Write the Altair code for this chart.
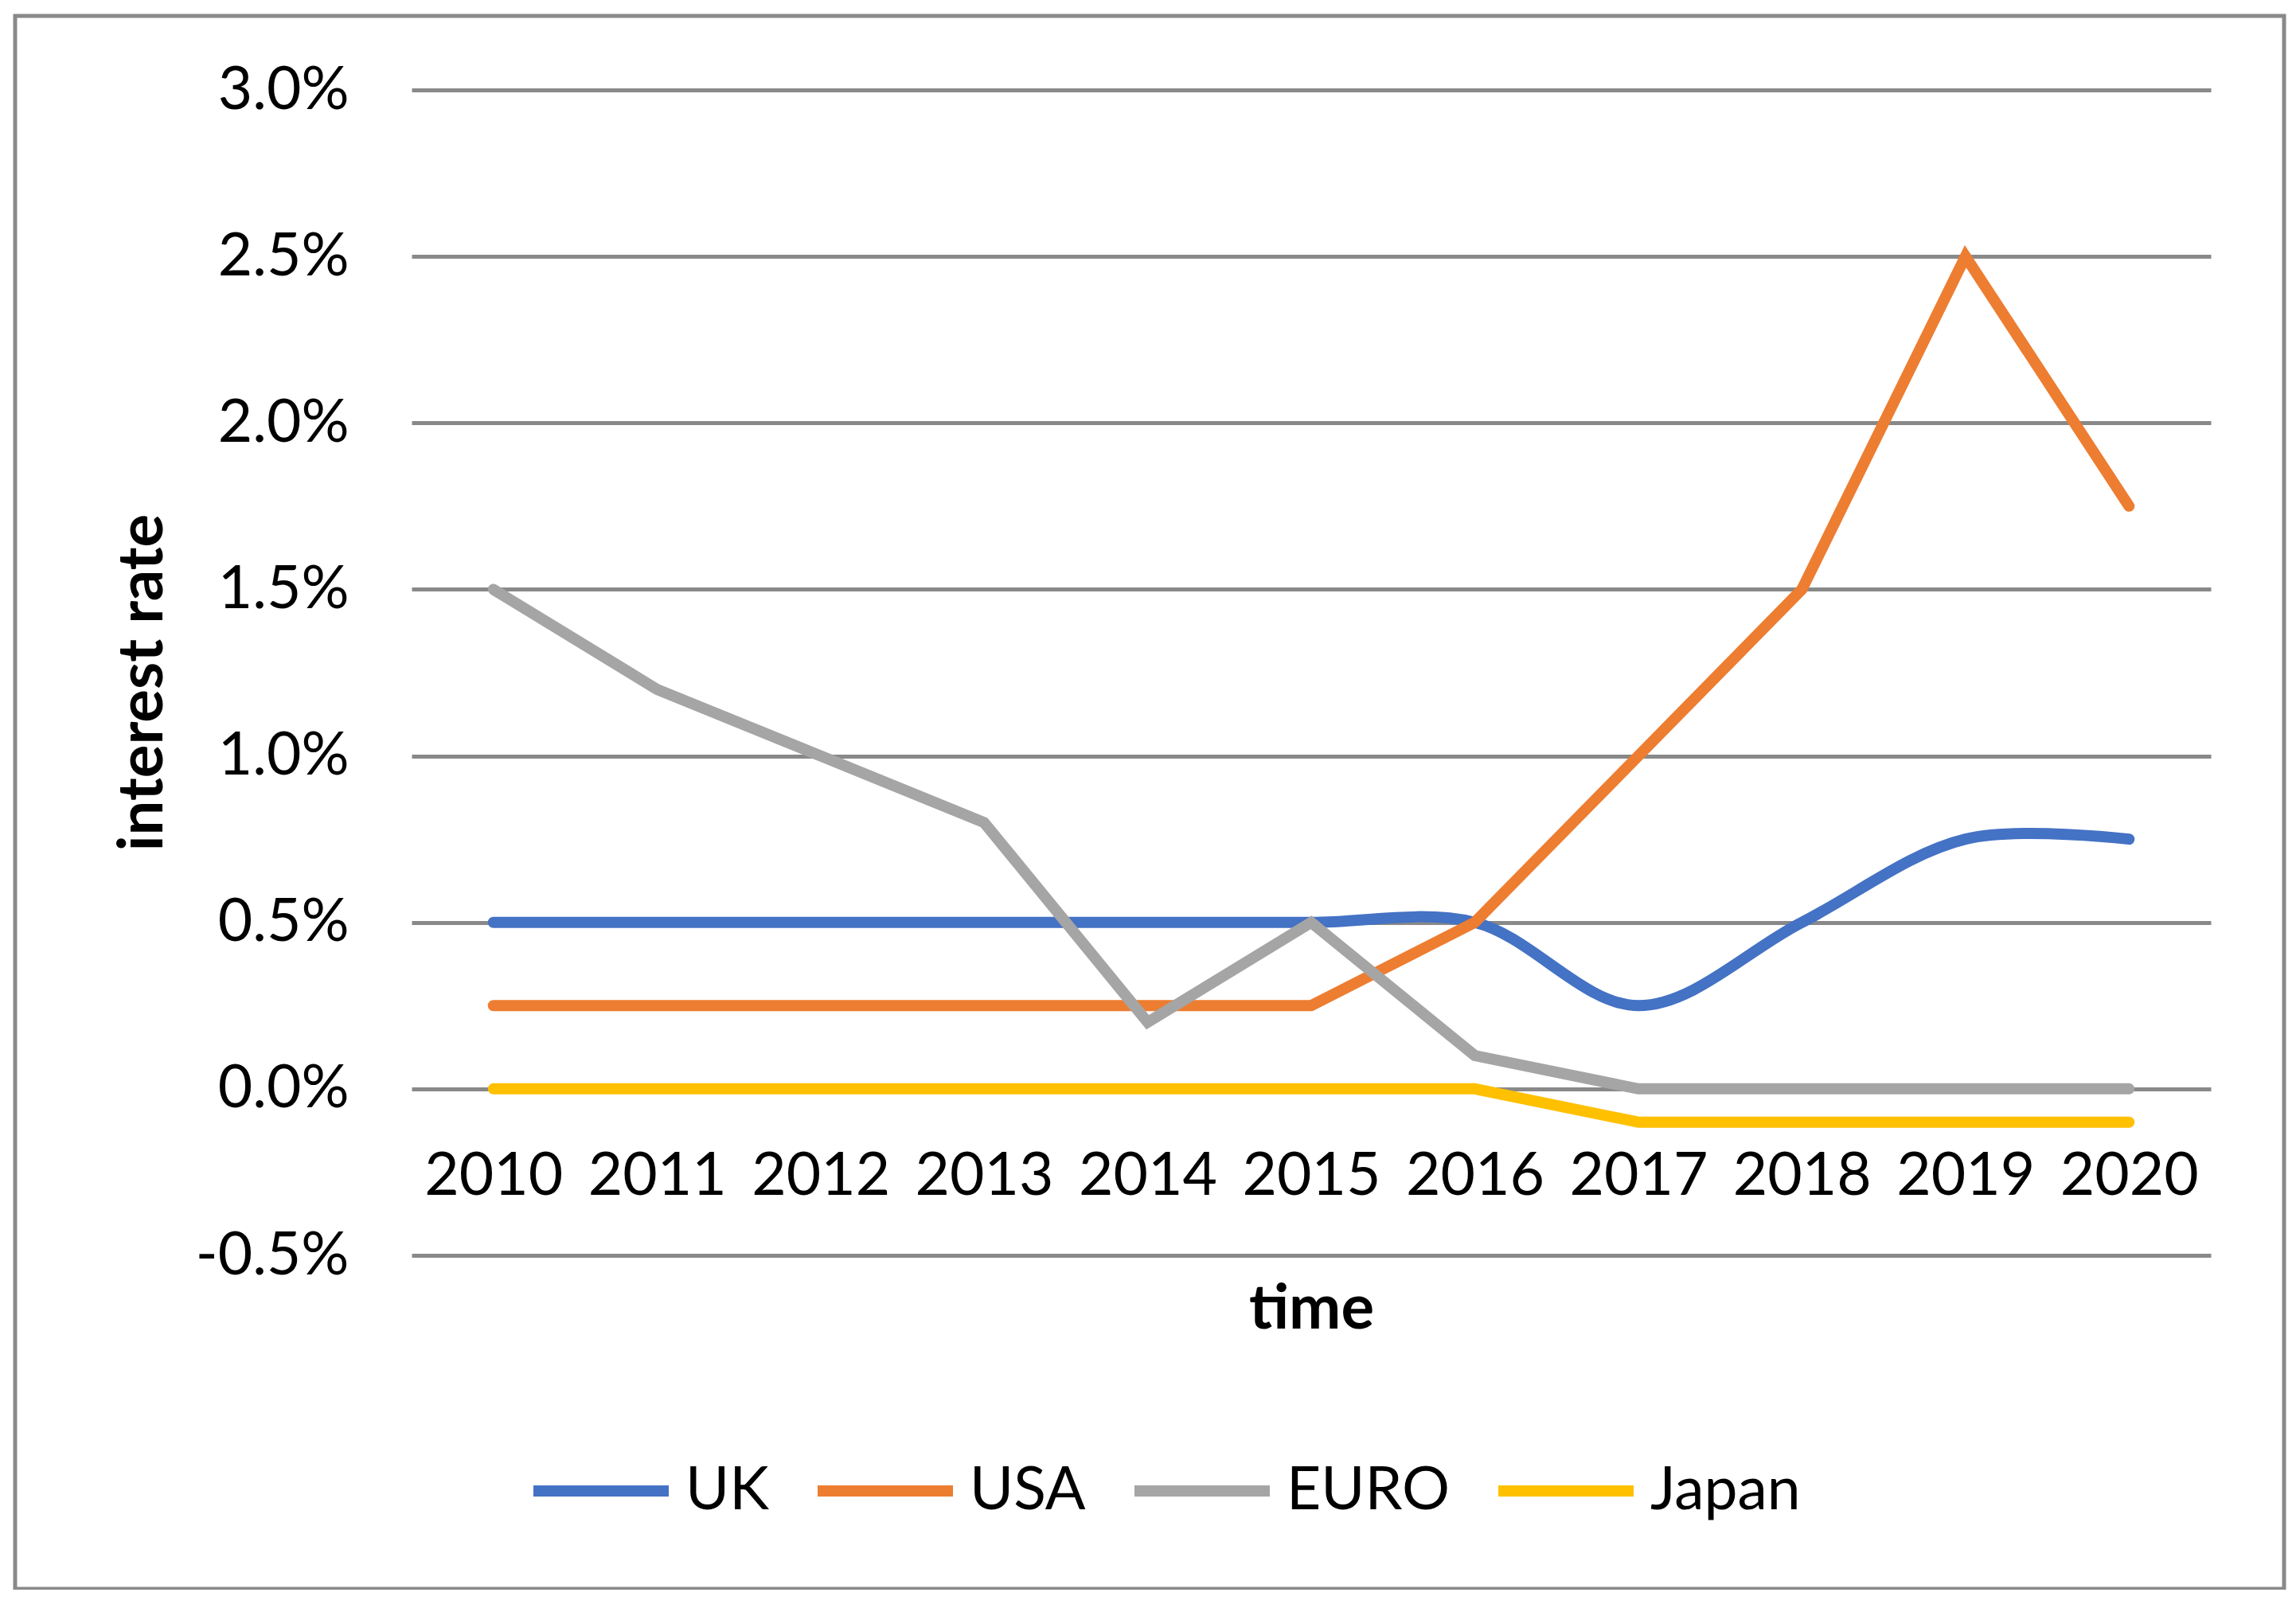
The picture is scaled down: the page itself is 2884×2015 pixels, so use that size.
import altair as alt
import pandas as pd

years = ["2010", "2011", "2012", "2013", "2014", "2015", "2016", "2017", "2018", "2019", "2020"]
series_names = ["UK", "USA", "EURO", "Japan"]
series_colors = ["#4472C4", "#ED7D31", "#A5A5A5", "#FFC000"]
uk = [0.5, 0.5, 0.5, 0.5, 0.5, 0.5, 0.5, 0.25, 0.5, 0.75, 0.75]
usa = [0.25, 0.25, 0.25, 0.25, 0.25, 0.25, 0.5, 1.0, 1.5, 2.5, 1.75]
euro = [1.5, 1.2, 1.0, 0.8, 0.2, 0.5, 0.1, 0.0, 0.0, 0.0, 0.0]
japan = [0.0, 0.0, 0.0, 0.0, 0.0, 0.0, 0.0, -0.1, -0.1, -0.1, -0.1]
y_ticks = [-0.5, 0.0, 0.5, 1.0, 1.5, 2.0, 2.5, 3.0]

rows = []
for name, vals in zip(series_names, [uk, usa, euro, japan]):
    for i, (yr, v) in enumerate(zip(years, vals)):
        rows.append({"year": yr, "rate": v, "series": name, "idx": i})
df = pd.DataFrame(rows)

FONT = "Lato"
GRID = "#898989"

x_enc = alt.X(
    "year:O",
    scale=alt.Scale(type="point", padding=0.5, domain=years),
    axis=alt.Axis(
        orient="bottom", offset=-209, domain=False, ticks=False, grid=False,
        labelAngle=0, labelFont=FONT, labelFontSize=75, labelColor="#000000",
        labelPadding=132, labelBaseline="alphabetic", labelLimit=0,
        title="time", titleFont=FONT, titleFontSize=78, titleFontWeight="bold",
        titleColor="#000000", titleY=300, titleBaseline="alphabetic",
    ),
)
y_enc = alt.Y(
    "rate:Q",
    scale=alt.Scale(domain=[-0.5, 3.0], nice=False, zero=False),
    axis=alt.Axis(
        values=y_ticks, domain=False, ticks=False, grid=True,
        gridColor=GRID, gridWidth=5, gridOpacity=1,
        labelFont=FONT, labelFontSize=75, labelColor="#000000", labelPadding=79,
        labelLimit=0,
        labelExpr="(datum.value < 0 ? '-' : '') + format(abs(datum.value), '.1f') + '%'",
        title="interest rate", titleFont=FONT, titleFontSize=78, titleFontWeight="bold",
        titleColor="#000000", titleX=-314, titleY=744, titleAlign="center",
        titleBaseline="alphabetic", titleAngle=270,
    ),
)
color_enc = alt.Color(
    "series:N",
    scale=alt.Scale(domain=series_names, range=series_colors),
    legend=alt.Legend(
        orient="none", legendX=146, legendY=1668, direction="horizontal",
        title=None, symbolType="stroke", symbolSize=28900, symbolStrokeWidth=14,
        labelFont=FONT, labelFontSize=75, labelColor="#000000", labelOffset=14,
        labelLimit=0, columnPadding=33, padding=0,
    ),
)

layers = []
for name in series_names:
    interp = "catmull-rom" if name == "UK" else "linear"
    layers.append(
        alt.Chart(df)
        .transform_filter(alt.datum.series == name)
        .mark_line(strokeWidth=14, strokeCap="round", interpolate=interp)
        .encode(x=x_enc, y=y_enc, color=color_enc, order="idx:Q")
    )

border = alt.Chart(pd.DataFrame({"a": [0]})).mark_rect(
    filled=False, stroke=GRID, strokeWidth=5
).encode(
    x=alt.value(-498), x2=alt.value(2352), y=alt.value(-93), y2=alt.value(1883)
)

chart = alt.layer(border, *layers).properties(
    width=2260, height=1464,
    autosize=alt.AutoSizeParams(type="none"),
    padding={"left": 509, "top": 105, "right": 99, "bottom": 420},
    background="#ffffff",
).configure_view(stroke=None)

chart.save("out.html", embed_options={"renderer": "svg", "actions": False})
